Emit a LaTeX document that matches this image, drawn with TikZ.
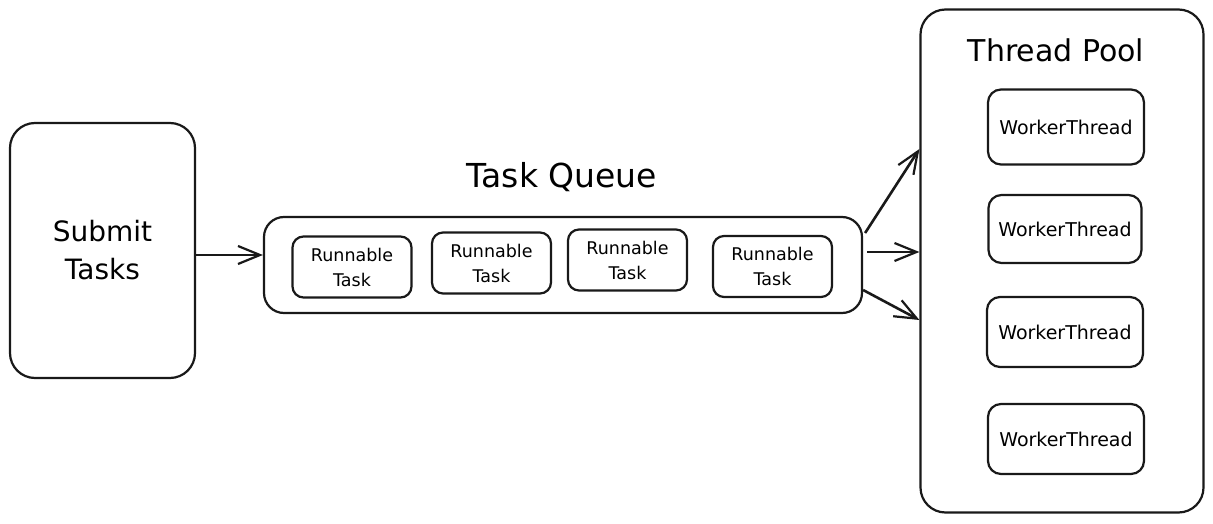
\documentclass[tikz,border=0pt]{standalone}
\usepackage{fontspec}
\setmainfont{DejaVu Sans}
\usetikzlibrary{arrows.meta}
\begin{document}
\begin{tikzpicture}[x=1pt,y=-1pt,
  box/.style={draw=black!90,line width=2.2pt,rounded corners=#1,inner sep=0pt},
  box/.default=12pt,
  arr/.style={draw=black!90,line width=2.6pt,-{Straight Barb[length=22pt,width=18pt,line width=2.2pt]}},
  rt/.style={box=11pt,minimum width=119pt,minimum height=61pt,align=center,font=\fontsize{17.5}{25}\selectfont},
  wt/.style={box=13pt,minimum width=156pt,minimum height=70pt,font=\fontsize{19}{23}\selectfont}]
\useasboundingbox (0,0) rectangle (1213,524);
\fill[white] (0,0) rectangle (1213,524);
% Submit
\node[box=25pt,minimum width=185pt,minimum height=255pt,align=center,
  font=\fontsize{28}{38}\selectfont] (sub) at (102.5,250.5) {Submit\\Tasks};
% Queue
\node[box=20pt,minimum width=598pt,minimum height=96pt] (q) at (563,265) {};
\node[font=\fontsize{33}{38}\selectfont] (qt) at (562,177) {Task Queue};
\node[rt] (r1) at (352,267) {Runnable\\Task};
\node[rt] (r2) at (491.5,263) {Runnable\\Task};
\node[rt] (r3) at (627.5,260) {Runnable\\Task};
\node[rt] (r4) at (772.5,266.5) {Runnable\\Task};
% Pool
\node[box=25pt,minimum width=283pt,minimum height=503pt] (pool) at (1062,261) {};
\node[font=\fontsize{30}{36}\selectfont] (pt) at (1056,50) {Thread Pool};
\node[wt,minimum height=75pt] (w1) at (1066,127) {WorkerThread};
\node[wt,minimum width=153pt,minimum height=68pt] (w2) at (1065,229) {WorkerThread};
\node[wt] (w3) at (1065,332) {WorkerThread};
\node[wt] (w4) at (1066,439) {WorkerThread};
% arrows
\draw[arr] (sub.east |- 0,255) -- (q.west |- 0,255);
\draw[arr] ([xshift=2pt]q.east |- 0,233) -- (pool.west |- 0,149);
\draw[arr] ([xshift=4pt]q.east |- 0,252) -- (pool.west |- 0,252);
\draw[arr] (q.east |- 0,290) -- (pool.west |- 0,320);
\end{tikzpicture}
\end{document}
